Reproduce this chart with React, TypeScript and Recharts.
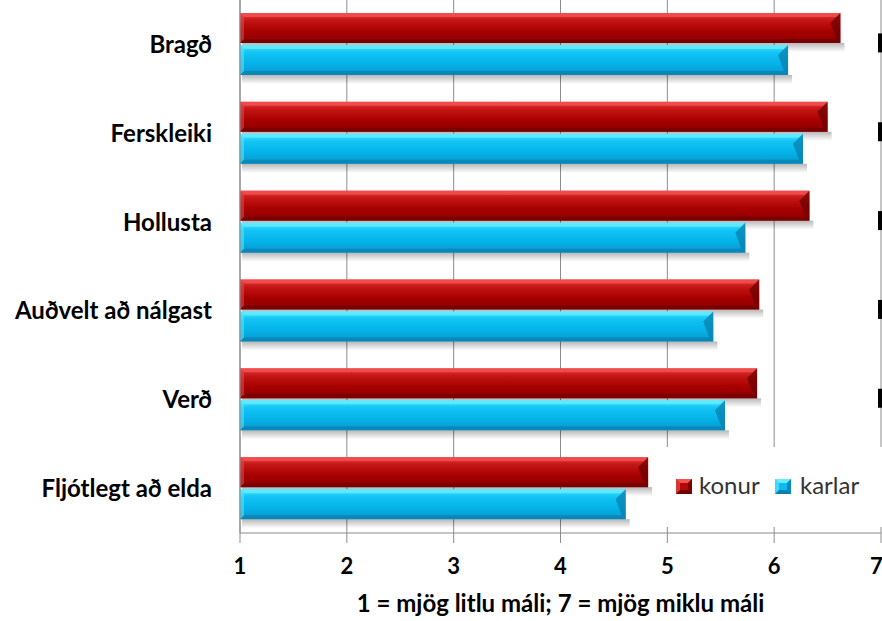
import React from "react";
import { BarChart, Bar, XAxis, YAxis, CartesianGrid, Legend } from "recharts";

// data
const categories = ["Bragð", "Ferskleiki", "Hollusta", "Auðvelt að nálgast", "Verð", "Fljótlegt að elda"];
const konur = [6.62, 6.5, 6.33, 5.86, 5.84, 4.82];
const karlar = [6.13, 6.27, 5.73, 5.43, 5.54, 4.61];
const xTicks = [1, 2, 3, 4, 5, 6, 7];
const seriesNames = ["konur", "karlar"];

const data = categories.map((name, i) => ({ name, konur: konur[i], karlar: karlar[i] }));

const PAL: Record<string, { light: string; main: string; dark: string }> = {
  konur: { light: "#f25252", main: "#b20a0a", dark: "#6e0000" },
  karlar: { light: "#66ecff", main: "#0cbcf0", dark: "#0a7fae" },
};

const FONT = "Lato, 'Open Sans', sans-serif";

function Bevel(props: any) {
  const { x, y, width, height, kind } = props;
  if (!width || width <= 0) return null;
  const p = PAL[kind];
  const b = 4;
  const r = x + width;
  return (
    <g>
      <rect x={x + 2} y={y + height} width={width + 2} height={9} fill="url(#shadowGrad)" />
      <rect x={x} y={y} width={width} height={height} fill={`url(#grad-${kind})`} />
      <polygon points={`${x},${y} ${r},${y} ${r - b},${y + b} ${x + b},${y + b}`} fill={p.light} opacity={0.8} />
      <polygon points={`${x},${y + height} ${r},${y + height} ${r - b},${y + height - b} ${x + b},${y + height - b}`} fill={p.dark} opacity={0.7} />
      <polygon points={`${x},${y} ${x + b},${y + b} ${x + b},${y + height - b} ${x},${y + height}`} fill={p.light} opacity={0.5} />
      <polygon points={`${r},${y} ${r - b - 6},${y + b + 6} ${r - b},${y + height - b} ${r},${y + height}`} fill={p.dark} opacity={0.75} />
    </g>
  );
}

function Swatch({ kind, x }: { kind: string; x: number }) {
  const p = PAL[kind];
  return (
    <svg width={16} height={15} style={{ position: "absolute", left: x, top: 32 }}>
      <rect x={0} y={0} width={16} height={15} fill={p.main} />
      <polygon points="0,0 16,0 12,4 4,4" fill={p.light} />
      <polygon points="0,15 16,15 12,11 4,11" fill={p.dark} />
      <polygon points="16,0 16,15 12,11 12,4" fill={p.dark} opacity={0.8} />
      <polygon points="0,0 0,15 4,11 4,4" fill={p.light} opacity={0.6} />
    </svg>
  );
}

function LegendBox() {
  const spots = [{ sx: 20, tx: 43 }, { sx: 119, tx: 144 }];
  return (
    <div style={{ position: "relative", width: 226, height: 80, background: "#fff" }}>
      {seriesNames.map((n, i) => (
        <React.Fragment key={n}>
          <Swatch kind={n} x={spots[i].sx} />
          <span style={{ position: "absolute", left: spots[i].tx, top: 23, fontFamily: FONT, fontSize: 24, color: "#333", lineHeight: "30px" }}>{n}</span>
        </React.Fragment>
      ))}
    </div>
  );
}

function RightMark(props: any) {
  const { x, y } = props;
  return <rect x={x - 3} y={y - 11} width={4} height={19} fill="#000" />;
}

export default function App() {
  return (
    <div style={{ position: "absolute", left: 0, top: 0, width: 882, height: 621, background: "#fff" }}>
      <BarChart
        width={882}
        height={621}
        data={data}
        layout="vertical"
        margin={{ top: 0, right: 0, left: 0, bottom: 0 }}
        barSize={30}
        barGap={2}
      >
        <defs>
          <linearGradient id="grad-konur" x1="0" y1="0" x2="0" y2="1">
            <stop offset="0%" stopColor="#e83a3a" />
            <stop offset="25%" stopColor="#c41616" />
            <stop offset="60%" stopColor="#a80000" />
            <stop offset="100%" stopColor="#8c0000" />
          </linearGradient>
          <linearGradient id="grad-karlar" x1="0" y1="0" x2="0" y2="1">
            <stop offset="0%" stopColor="#4ae4ff" />
            <stop offset="25%" stopColor="#12c4f4" />
            <stop offset="60%" stopColor="#05b4ea" />
            <stop offset="100%" stopColor="#0898cc" />
          </linearGradient>
          <linearGradient id="shadowGrad" x1="0" y1="0" x2="0" y2="1">
            <stop offset="0%" stopColor="#000" stopOpacity={0.28} />
            <stop offset="100%" stopColor="#000" stopOpacity={0} />
          </linearGradient>
        </defs>
        <CartesianGrid horizontal={false} stroke="#8c8c8c" />
        <XAxis
          type="number"
          domain={[1, 7]}
          ticks={xTicks}
          height={88}
          stroke="#8c8c8c"
          tickSize={10}
          tickMargin={15}
          tick={{ fill: "#000", fontFamily: FONT, fontWeight: 700, fontSize: 22 }}
          label={{
            value: "1 = mjög litlu máli; 7 = mjög miklu máli",
            position: "insideBottom",
            offset: 9,
            fill: "#000",
            fontFamily: FONT,
            fontWeight: 700,
            fontSize: 24,
          }}
        />
        <YAxis
          type="category"
          dataKey="name"
          width={240}
          stroke="#8c8c8c"
          tickLine={false}
          tickMargin={22}
          tick={{ fill: "#000", fontFamily: FONT, fontWeight: 700, fontSize: 24 }}
        />
        <YAxis
          yAxisId="r"
          orientation="right"
          type="category"
          dataKey="name"
          width={1}
          axisLine={false}
          tickLine={false}
          tickSize={0}
          tickMargin={0}
          tick={<RightMark />}
        />
        <Legend verticalAlign="middle" layout="horizontal" content={<LegendBox />} wrapperStyle={{ left: 656, top: 447, width: 226, height: 80 }} />
        {seriesNames.map((n) => (
          <Bar key={n} dataKey={n} isAnimationActive={false} shape={(p: any) => <Bevel {...p} kind={n} />} />
        ))}
      </BarChart>
    </div>
  );
}
